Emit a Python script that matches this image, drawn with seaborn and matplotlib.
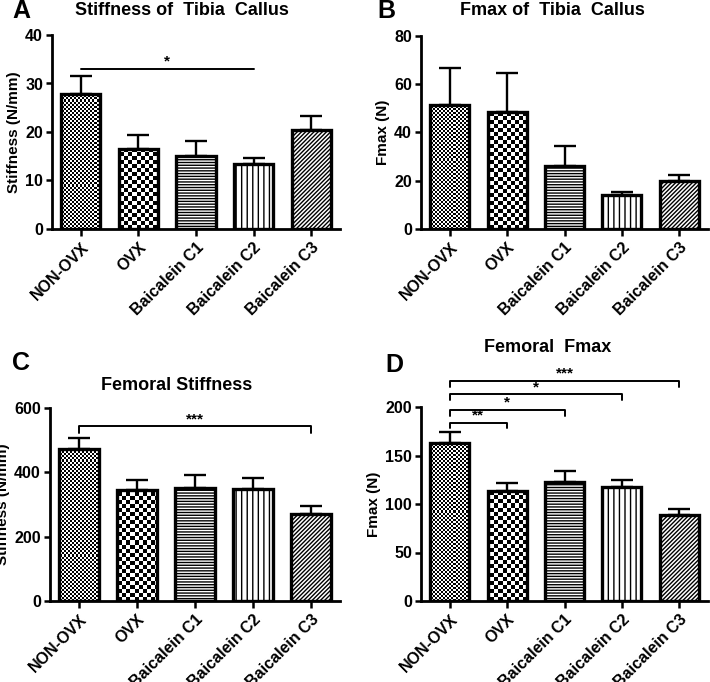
import numpy as np
import pandas as pd
import seaborn as sns
import matplotlib.pyplot as plt

# Data (mean and upper SEM)
groups = ["NON-OVX", "OVX", "Baicalein C1", "Baicalein C2", "Baicalein C3"]

tibia_stiff_mean = [27.8, 16.4, 15.0, 13.4, 20.4]
tibia_stiff_sem = [3.8, 2.9, 3.1, 1.3, 2.8]

tibia_fmax_mean = [51.3, 48.3, 26.3, 14.2, 19.9]
tibia_fmax_sem = [15.5, 16.3, 7.9, 1.0, 2.6]

femur_stiff_mean = [473, 344, 351, 348, 269]
femur_stiff_sem = [34, 31, 41, 33, 25]

femur_fmax_mean = [163, 113.8, 122.4, 117.2, 89]
femur_fmax_sem = [11.5, 7.6, 11.4, 7.6, 5.5]

sns.set_theme(style="ticks")
plt.rcParams["font.family"] = ["Liberation Sans", "DejaVu Sans"]
plt.rcParams["font.weight"] = "bold"
plt.rcParams["axes.labelweight"] = "bold"
plt.rcParams["text.color"] = "black"
plt.rcParams["axes.labelcolor"] = "black"
plt.rcParams["xtick.color"] = "black"
plt.rcParams["ytick.color"] = "black"
plt.rcParams["axes.edgecolor"] = "black"
plt.rcParams["hatch.linewidth"] = 1.0
plt.rcParams["hatch.color"] = "black"

fig = plt.figure(figsize=(7.1, 6.82), dpi=100)
W, H = 710, 682


def rect(l, t, r, b):
    return [l / W, 1 - b / H, (r - l) / W, (b - t) / H]


def checker(ax, patch, cell):
    # checkerboard texture clipped to a bar
    w = ax.bbox.width
    h = ax.bbox.height
    nx, ny = int(w / cell), int(h / cell)
    img = (np.add.outer(np.arange(ny), np.arange(nx)) % 2).astype(float)
    xl, yl = ax.get_xlim(), ax.get_ylim()
    im = ax.imshow(img, cmap="gray", extent=(xl[0], xl[1], yl[0], yl[1]),
                   aspect="auto", interpolation="nearest", zorder=2)
    im.set_clip_path(patch)
    ax.set_xlim(xl)
    ax.set_ylim(yl)


def panel(pos, means, sems, ymax, step, ylabel):
    ax = fig.add_axes(rect(*pos))
    df = pd.DataFrame({"group": groups, "value": means})
    sns.barplot(data=df, x="group", y="value", color="white", edgecolor="black",
                linewidth=2.4, width=0.68, errorbar=None, ax=ax)
    ax.set_xlim(-0.5, 4.5)
    ax.set_ylim(0, ymax)
    ax.errorbar(range(len(means)), means, yerr=[np.zeros(len(sems)), sems],
                fmt="none", ecolor="black", elinewidth=1.7, capsize=8,
                capthick=1.7, zorder=1)
    bars = ax.patches
    for p in bars:
        p.set_facecolor("none")
        p.set_zorder(3)
    checker(ax, bars[0], 2)
    checker(ax, bars[1], 4)
    bars[2].set_hatch("------")
    bars[3].set_hatch("|||")
    bars[4].set_hatch("////////")
    ax.set_yticks(np.arange(0, ymax + 1, step))
    sns.despine(ax=ax)
    ax.spines["left"].set_linewidth(2.0)
    ax.spines["bottom"].set_linewidth(2.0)
    ax.tick_params(axis="both", width=1.8, labelsize=11.5, colors="black",
                   pad=2.5)
    ax.tick_params(axis="x", length=5)
    ax.tick_params(axis="y", length=4)
    for lab in ax.get_xticklabels():
        lab.set_rotation(45)
        lab.set_ha("right")
        lab.set_rotation_mode("anchor")
        lab.set_fontweight("bold")
    for lab in ax.get_yticklabels():
        lab.set_fontweight("bold")
    ax.set_xlabel("")
    ax.set_ylabel(ylabel, fontsize=11, fontweight="bold", color="black",
                  labelpad=3)
    return ax


def bracket(ax, x1, x2, y, h, text):
    ax.plot([x1, x1, x2, x2], [y - h, y, y, y - h], color="black", lw=1.4,
            clip_on=False)
    ax.text((x1 + x2) / 2, y, text, ha="center", va="bottom", fontsize=11,
            fontweight="bold", clip_on=False)


axA = panel((52, 35, 340, 229), tibia_stiff_mean, tibia_stiff_sem, 40, 10,
            "Stiffness (N/mm)")
bracket(axA, 0, 3, 33, 0, "*")

axB = panel((421, 36, 708, 229), tibia_fmax_mean, tibia_fmax_sem, 80, 20,
            "Fmax (N)")

axC = panel((50, 408, 340, 601), femur_stiff_mean, femur_stiff_sem, 600, 200,
            "Stiffness (N/mm)")
bracket(axC, 0, 4, 543, 20, "***")

axD = panel((421, 407, 708, 601), femur_fmax_mean, femur_fmax_sem, 200, 50,
            "Fmax (N)")
bracket(axD, 0, 1, 184, 6, "**")
bracket(axD, 0, 2, 197, 6, "*")
bracket(axD, 0, 3, 213, 6, "*")
bracket(axD, 0, 4, 227, 6, "***")

# titles and panel letters
fig.text(182 / W, 1 - 15 / H, "Stiffness of  Tibia  Callus", ha="center",
         va="baseline", fontsize=13, fontweight="bold")
fig.text(552 / W, 1 - 15 / H, "Fmax of  Tibia  Callus", ha="center",
         va="baseline", fontsize=13, fontweight="bold")
fig.text(177 / W, 1 - 390 / H, "Femoral Stiffness", ha="center",
         va="baseline", fontsize=13, fontweight="bold")
fig.text(548 / W, 1 - 352 / H, "Femoral  Fmax", ha="center",
         va="baseline", fontsize=13, fontweight="bold")
for x, y, s in [(12, 18, "A"), (377, 18, "B"), (12, 370, "C"), (385, 372, "D")]:
    fig.text(x / W, 1 - y / H, s, ha="left", va="baseline", fontsize=18,
             fontweight="bold")

fig.savefig("out.png", dpi=100)
